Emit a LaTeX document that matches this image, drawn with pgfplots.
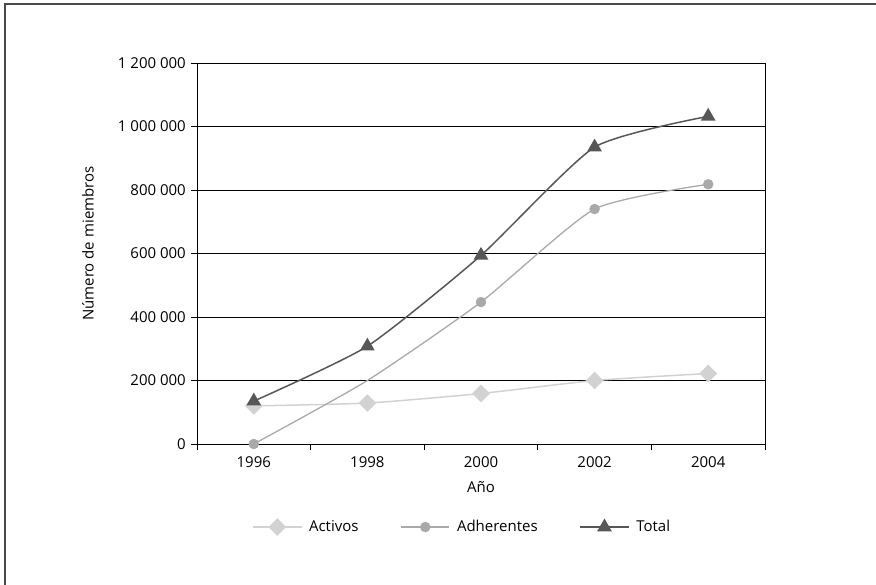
\documentclass[border=0pt]{standalone}
\usepackage{pgfplots}
\pgfplotsset{compat=1.18}
\usepackage{fontspec}
\setmainfont{Open Sans}

\definecolor{activos}{HTML}{D2D2D2}
\definecolor{adher}{HTML}{A9A9A9}
\definecolor{total}{HTML}{575757}
\definecolor{marco}{HTML}{4A4A4A}

\begin{document}
\fontsize{15bp}{18bp}\selectfont
\begin{tikzpicture}
\begin{axis}[
    scale only axis,
    width=568bp, height=381bp,
    xmin=-0.5, xmax=4.5,
    ymin=0, ymax=1200000,
    xtick={-0.5,0.5,1.5,2.5,3.5,4.5},
    xticklabels={,,,,,},
    extra x ticks={0,1,2,3,4},
    extra x tick labels={1996,1998,2000,2002,2004},
    extra x tick style={major tick length=0pt, tick label style={yshift=-7bp}},
    ytick={0,200000,400000,600000,800000,1000000,1200000},
    yticklabels={0,200 000,400 000,600 000,800 000,1 000 000,1 200 000},
    scaled y ticks=false,
    xtick pos=bottom, ytick pos=left,
    tick align=outside,
    major tick length=6bp,
    tick style={black, line width=0.8bp},
    ymajorgrids,
    grid style={black, line width=0.8bp},
    axis line style={black, line width=0.8bp},
    /pgf/number format/assume math mode=true,
    tick label style={font=\fontsize{15bp}{18bp}\selectfont},
    label style={font=\fontsize{15bp}{18bp}\selectfont},
    xlabel={Año},
    ylabel={Número de miembros},
    xlabel style={at={(axis description cs:0.5,-0.113)}, anchor=center},
    ylabel style={at={(axis description cs:-0.192,0.526)}, anchor=center},
    legend columns=-1,
    legend style={draw=none, fill=none, at={(0.467,-0.218)}, anchor=center,
        font=\fontsize{15bp}{18bp}\selectfont,
        /tikz/every odd column/.append style={column sep=5bp},
        /tikz/every even column/.append style={column sep=40bp}},
    legend image code/.code={%
        \draw[mark repeat=2,mark phase=2,#1] plot coordinates {(0cm,0cm) (0.85cm,0cm) (1.7cm,0cm)};},
]
% Activos
\addplot[activos, line width=1.5bp, smooth, tension=0.35,
    mark=square*, mark size=5.5bp, mark options={rotate=45, fill=activos, draw=activos}]
    coordinates {(0,120000) (1,129000) (2,159000) (3,200000) (4,222000)};
\addlegendentry{Activos}
% Adherentes: line
\addplot[adher, line width=1.3bp, smooth, tension=0.35, forget plot]
    coordinates {(0,0) (1,200000) (2,447000) (3,740000) (4,818000)};
% Adherentes: marks (no marker in 1998)
\addplot[adher, only marks, mark=*, mark size=5bp, mark options={fill=adher, draw=adher},
    legend image code/.code={%
        \draw[adher, line width=1.3bp] (0cm,0cm) -- (1.7cm,0cm);
        \fill[adher] (0.85cm,0cm) circle (5bp);}]
    coordinates {(0,0) (2,447000) (3,740000) (4,818000)};
\addlegendentry{Adherentes\hspace{18bp}}
% Total
\addplot[total, line width=1.5bp, smooth, tension=0.35,
    mark=triangle*, mark size=7bp, mark options={fill=total, draw=total}]
    coordinates {(0,135000) (1,308000) (2,594000) (3,935000) (4,1032000)};
\addlegendentry{Total}
\end{axis}
\draw[marco, line width=2bp]
    ([xshift=111bp, yshift=59bp]current axis.north east)
    -- ([xshift=-192bp, yshift=59bp]current axis.north west)
    -- ([xshift=-192bp, yshift=-141bp]current axis.south west);
\pgfresetboundingbox
\path ([xshift=-197bp, yshift=63bp]current axis.north west)
    rectangle ([xshift=111bp, yshift=-141bp]current axis.south east);
\end{tikzpicture}
\end{document}
